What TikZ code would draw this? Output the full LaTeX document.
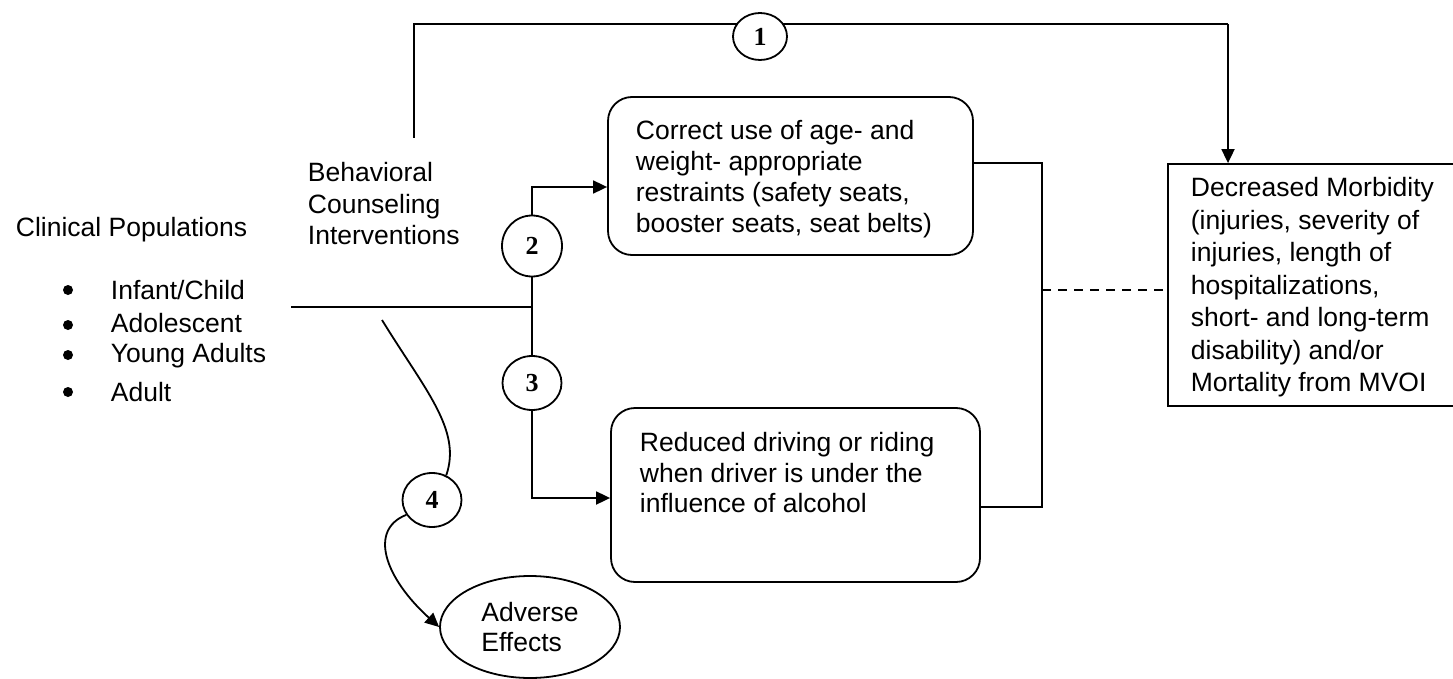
\documentclass[tikz,border=0pt]{standalone}
\usepackage{fontspec}
\setmainfont{Liberation Sans}
\newfontfamily\numfont{Liberation Serif}
\usetikzlibrary{arrows.meta,shapes.geometric}
\begin{document}
\begin{tikzpicture}[x=1pt,y=-1pt,
  line width=1.8pt,
  arr/.style={-{Triangle[length=14pt,width=13pt]}},
  txt/.style={inner sep=0pt, anchor=base west, align=left, font=\fontsize{26.5}{31.5}\selectfont},
  rbox/.style={draw, rounded corners=24pt, inner sep=0pt},
  sbox/.style={draw, inner sep=0pt},
  num/.style={draw, ellipse, fill=white, inner sep=0pt, font=\numfont\bfseries\fontsize{26}{26}\selectfont},
  dot/.style={circle, fill=black, inner sep=0pt, minimum size=10pt},
]
\useasboundingbox (0,0) rectangle (1453,679);

% boxes
\node[rbox, minimum width=365pt, minimum height=158pt] (box1) at (790.5,176) {};
\node[rbox, minimum width=369pt, minimum height=174pt] (box2) at (795.5,495) {};
\node[sbox, minimum width=302pt, minimum height=242pt] (outc) at (1319,285) {};
\node[draw, ellipse, minimum width=180pt, minimum height=102pt, inner sep=0pt, align=left,
      font=\fontsize{26.5}{30}\selectfont] (ae) at (530,627) {Adverse\\Effects};

% texts (multi-line nodes: base anchor = baseline of last line)
\node[txt] (clin) at (15,236.5) {Clinical Populations};
\node[dot] (d1) at (68,290) {};
\node[dot] (d2) at (68,325) {};
\node[dot] (d3) at (68,355) {};
\node[dot] (d4) at (68,392) {};
\node[txt] (p1) at (110,299.5) {Infant/Child};
\node[txt] (p2) at (110,332.5) {Adolescent};
\node[txt] (p3) at (110,362.5) {Young Adults};
\node[txt] (p4) at (110,401.5) {Adult};
\node[txt] (bci) at (307,244.5) {Behavioral\\Counseling\\Interventions};
\node[txt, font=\fontsize{26.5}{31}\selectfont] (t1) at (635,232.5) {Correct use of age- and\\weight- appropriate\\restraints (safety seats,\\booster seats, seat belts)};
\node[txt, font=\fontsize{26.5}{30.5}\selectfont] (t2) at (639,512.5) {Reduced driving or riding\\when driver is under the\\influence of alcohol};
\node[txt, font=\fontsize{26.5}{32.5}\selectfont] (t3) at (1190,391.5) {Decreased Morbidity\\(injuries, severity of\\injuries, length of\\hospitalizations,\\short- and long-term\\disability) and/or\\Mortality from MVOI};

% helper coordinates
\coordinate (bcitop) at (414,138);
\coordinate (tl) at (414,24);
\coordinate (tr) at (1228,24);
\coordinate (pop) at (291,307);
\coordinate (junc) at (532,307);
\coordinate (h187) at (0,187);
\coordinate (h498) at (0,498);
\coordinate (h163) at (0,163);
\coordinate (h507) at (0,507);
\coordinate (v1) at (1042,163);
\coordinate (v2) at (1042,507);
\coordinate (dm) at (1042,290);
\coordinate (cs) at (382,320);

% path 1
\draw (bcitop) -- (tl) -- (tr);
\draw[arr] (tr) -- (tr |- outc.north);

% paths 2 and 3
\draw (pop) -- (junc);
\node[num, minimum width=60pt, minimum height=61pt] (c2) at (532,246) {2};
\node[num, minimum width=59pt, minimum height=54pt] (c3) at (532,383) {3};
\draw (c2.south) -- (c3.north);
\draw[arr] (c2.north) |- (box1.west |- h187);
\draw[arr] (c3.south) |- (box2.west |- h498);

% to outcome
\draw (box1.east |- h163) -- (v1) -- (v2) -- (box2.east |- h507);
\draw[dash pattern=on 9pt off 7pt] (dm) -- (dm -| outc.west);

% path 4
\node[num, minimum width=59pt, minimum height=54pt] (c4) at (432,500) {4};
\draw (cs) .. controls (425,390) and (462,430) .. (c4.60);
\draw[arr] (c4.210) .. controls (368,530) and (385,578) .. (ae.west);

\node[num, minimum width=54pt, minimum height=47pt] (c1) at (760,36.5) {1};
\end{tikzpicture}
\end{document}
